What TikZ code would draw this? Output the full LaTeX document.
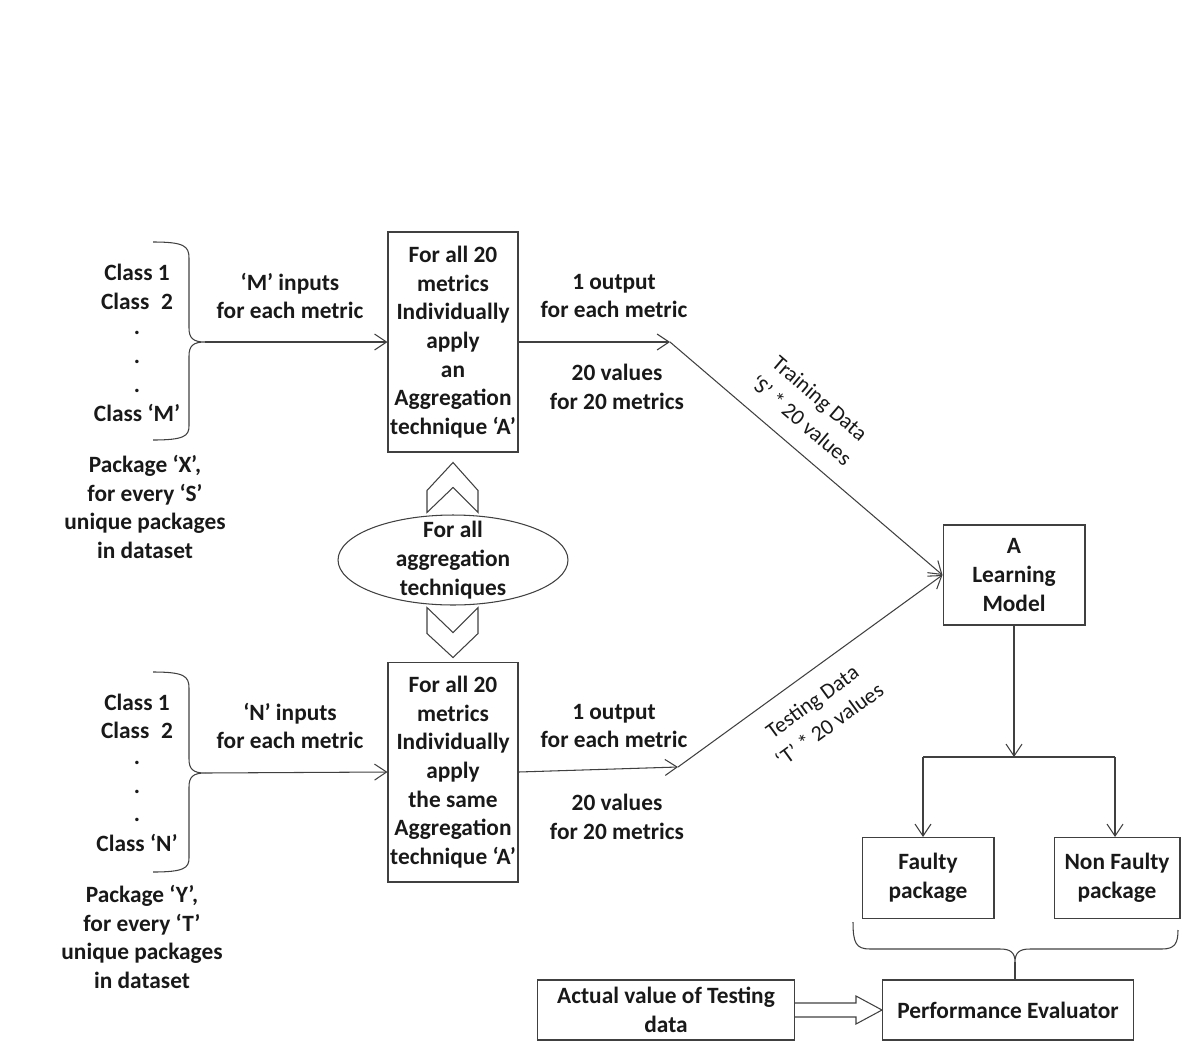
\documentclass[tikz,border=0pt]{standalone}
\usepackage{fontspec}
\setmainfont{Carlito}
\usetikzlibrary{arrows.meta,shapes.geometric}

\begin{document}
\begin{tikzpicture}[x=0.02cm,y=-0.02cm,line width=0.6pt,color=black!75,
    >={Straight Barb[length=2.4mm,width=3.2mm]},
    every node/.style={font=\fontsize{13.3}{16.3}\selectfont\bfseries,
      text=black!90,align=center,inner sep=0pt},
    box/.style={draw},
    lbl/.style={font=\fontsize{12.5}{16.5}\selectfont}]
\useasboundingbox (0,0) rectangle (1182,1041);

% upper package
\node (c1) at (137,272) {Class 1};
\node (c2) at (137,301) {Class\enspace2};
\node (d1) at (137,333) {.};
\node (d2) at (137,362) {.};
\node (d3) at (137,391) {.};
\node (cm) at (137,413) {Class ‘M’};
\node (px) at (145,507) {Package ‘X’,\\for every ‘S’\\unique packages\\in dataset};
\draw (153,242) .. controls (184,242) and (189,246) .. (189,258) -- (189,328)
    .. controls (189,338) and (193,342) .. (205,342) coordinate (bx)
    .. controls (193,342) and (189,346) .. (189,356) -- (189,426)
    .. controls (189,436) and (184,440) .. (153,440);

% lower package
\node (n1) at (137,702) {Class 1};
\node (n2) at (137,730) {Class\enspace2};
\node (e1) at (137,763) {.};
\node (e2) at (137,792) {.};
\node (e3) at (137,820) {.};
\node (cn) at (137,843) {Class ‘N’};
\node (py) at (142,937) {Package ‘Y’,\\for every ‘T’\\unique packages\\in dataset};
\draw (153,672) .. controls (184,672) and (189,676) .. (189,688) -- (189,759)
    .. controls (189,769) and (193,773) .. (205,773) coordinate (by)
    .. controls (193,773) and (189,777) .. (189,787) -- (189,858)
    .. controls (189,868) and (184,872) .. (153,872);

% aggregation boxes
\node[box,minimum width=2.6cm,minimum height=4.4cm] (ag1) at (453,342)
    {For all 20\\metrics\\Individually\\apply\\an\\Aggregation\\technique ‘A’};
\node[box,minimum width=2.6cm,minimum height=4.4cm] (ag2) at (453,772)
    {For all 20\\metrics\\Individually\\apply\\the same\\Aggregation\\technique ‘A’};
\node[draw,ellipse,fill=white,minimum width=4.6cm,minimum height=1.8cm] (all) at (453,560) {};
\node (allt) at (all.center) {For all\\aggregation\\techniques};

\draw (all.north) ++(-26,-2) -- ++(0,-22) -- ++(26,-28) -- ++(25,28)
    -- ++(0,22) -- ++(-25,-25) -- cycle;
\draw (all.south) ++(-26,2) -- ++(26,25) -- ++(25,-25) -- ++(0,26)
    -- ++(-25,24) -- ++(-26,-24) -- cycle;

\node (mi) at (290,296) {‘M’ inputs\\for each metric};
\node (ni) at (290,726) {‘N’ inputs\\for each metric};
\node (mo) at (614,296) {1 output\\for each metric};
\node (mv) at (617,387) {20 values\\for 20 metrics};
\node (no) at (614,726) {1 output\\for each metric};
\node (nv) at (617,817) {20 values\\for 20 metrics};

\draw[->] (bx) -- (ag1.west);
\draw[->] (by) -- (ag2.west);

% learning model and results
\node[box,minimum width=2.84cm,minimum height=2cm] (lm) at (1014,575) {A\\Learning\\Model};
\node[box,minimum width=2.64cm,minimum height=1.62cm] (fp) at (928,878) {Faulty\\package};
\node[box,minimum width=2.52cm,minimum height=1.62cm] (nf) at (1117,878) {Non Faulty\\package};
\node[box,minimum width=5.14cm,minimum height=1.2cm] (av) at (666,1010) {Actual value of Testing\\data};
\node[box,minimum width=5.02cm,minimum height=1.2cm] (pe) at (1008,1010) {Performance Evaluator};

\coordinate (o1) at (670,342);
\coordinate (o2) at (678,767);
\draw[->] (ag1.east) -- (o1);
\draw[->] (ag2.east) -- (o2);
\draw[->] (o1) -- node[lbl,sloped,above=10pt,pos=0.42] (trn) {Training Data\\‘S’ * 20 values} (lm.west);
\draw[->] (o2) -- node[lbl,sloped,below=10pt,pos=0.45] (tst) {Testing Data\\‘T’ * 20 values} (lm.west);

\coordinate (sl) at (923,757);
\coordinate (sr) at (1115,757);
\draw[->] (lm.south) -- (lm.south |- sl);
\draw (sl) -- (sr);
\draw[->] (sl) -- (sl |- fp.north);
\draw[->] (sr) -- (sr |- nf.north);

\draw (853,922) .. controls (853,943) and (856,949) .. (870,949) -- (1000,949)
    .. controls (1010,949) and (1015,952) .. (1015,962) coordinate (bt)
    .. controls (1015,952) and (1020,949) .. (1030,949) -- (1162,949)
    .. controls (1175,949) and (1178,943) .. (1178,930);
\draw (bt) -- (bt |- pe.north);

\path (pe.west) +(-26,-7) coordinate (ha) +(-26,-14) coordinate (hb)
    +(-26,7) coordinate (hc) +(-26,14) coordinate (hd);
\draw (av.east |- ha) -- (ha) -- (hb) -- (pe.west) -- (hd) -- (hc) -- (av.east |- hc);

\end{tikzpicture}
\end{document}
